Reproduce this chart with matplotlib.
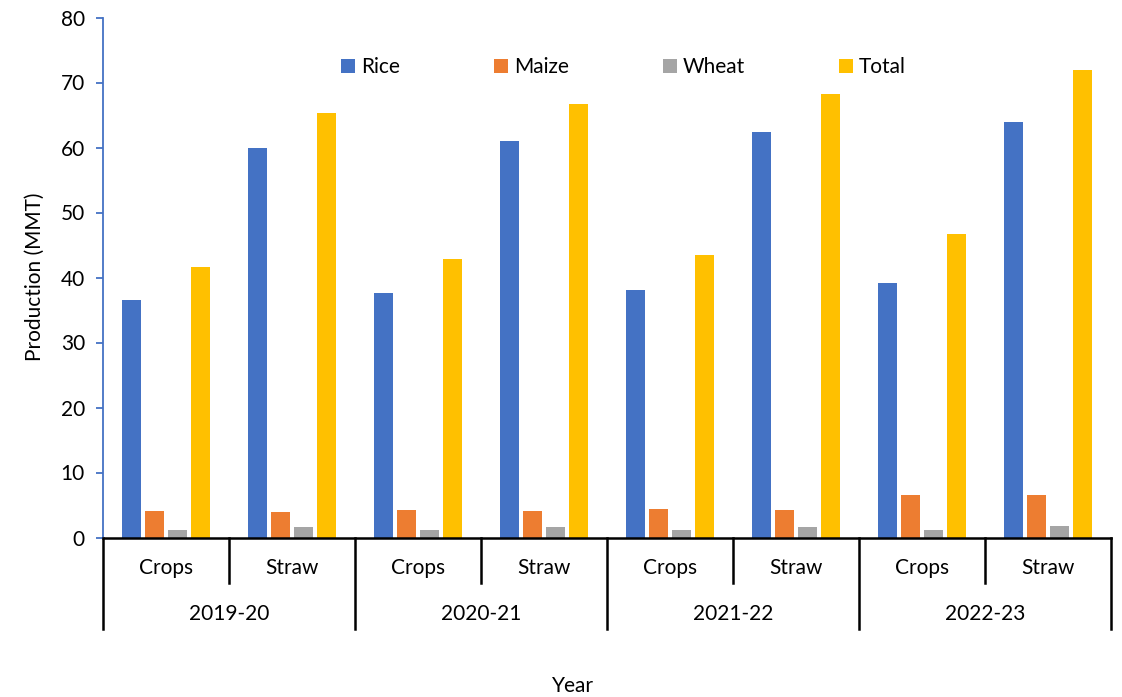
import matplotlib
matplotlib.use("Agg")
import matplotlib.pyplot as plt
import numpy as np

plt.rcParams['font.family'] = ['Lato', 'DejaVu Sans']

years = ['2019-20', '2020-21', '2021-22', '2022-23']
kinds = ['Crops', 'Straw']
series = ['Rice', 'Maize', 'Wheat', 'Total']
colors = ['#4472C4', '#ED7D31', '#A5A5A5', '#FFC000']

# values in order 2019 crops, 2019 straw, 2020 crops, ...
rice = [36.5, 59.9, 37.6, 61.0, 38.1, 62.4, 39.1, 64.0]
maize = [4.1, 4.0, 4.2, 4.1, 4.4, 4.3, 6.5, 6.5]
wheat = [1.1, 1.6, 1.2, 1.6, 1.2, 1.6, 1.2, 1.8]
total = [41.6, 65.3, 42.8, 66.7, 43.5, 68.2, 46.7, 72.0]

W, H = 1122, 697
fs = 15
fig = plt.figure(figsize=(W / 100, H / 100), dpi=100)
x0, x1 = 103, 1111
y0, y1 = 537.5, 17.5
ax = fig.add_axes([x0 / W, 1 - y0 / H, (x1 - x0) / W, (y0 - y1) / H])

n = len(rice)
x = np.arange(n)
pitch = 0.1825
bw = 0.145
for i, (vals, c, lab) in enumerate(zip([rice, maize, wheat, total], colors, series)):
    ax.bar(x + (i - 1.5) * pitch, vals, width=bw, color=c, label=lab, zorder=2)

ax.set_xlim(-0.5, n - 0.5)
ax.set_ylim(0, 80)
ax.set_yticks(np.arange(0, 81, 10))
ax.set_xticks([])
ax.tick_params(axis='y', direction='out', length=5, width=1.3, color='#4472C4',
               labelsize=fs, pad=8)
for s in ['top', 'right']:
    ax.spines[s].set_visible(False)
ax.spines['left'].set_color('#4472C4')
ax.spines['left'].set_linewidth(1.3)
ax.spines['bottom'].set_color('black')
ax.spines['bottom'].set_linewidth(1.8)

# multi-level category axis
ah = y0 - y1
def fy(py):
    return -(py - y0) / ah

tr = ax.get_xaxis_transform()
for b in np.arange(n + 1) - 0.5:
    if int(b + 0.5) % 2 == 0:
        ax.plot([b, b], [0, fy(629)], color='black', lw=1.8, transform=tr, clip_on=False)
    else:
        ax.plot([b, b], [0, fy(583)], color='black', lw=1.8, transform=tr, clip_on=False)
for i in range(n):
    ax.text(i, fy(568), kinds[i % 2], transform=tr, ha='center', va='center', fontsize=fs)
for j, yr in enumerate(years):
    ax.text(2 * j + 0.5, fy(614), yr, transform=tr, ha='center', va='center', fontsize=fs)

fig.text(35 / W, 1 - 277 / H, 'Production (MMT)', rotation=90, ha='center', va='center', fontsize=fs)
fig.text(573 / W, 1 - 686 / H, 'Year', ha='center', va='center', fontsize=fs)

leg = ax.legend(ncol=4, loc='center left', bbox_to_anchor=((341 - x0) / (x1 - x0), fy(67)),
                frameon=False, fontsize=fs, handlelength=0.67, handleheight=0.67,
                handletextpad=0.3, columnspacing=4.5, borderaxespad=0, borderpad=0)

fig.savefig('out.png', dpi=100)
